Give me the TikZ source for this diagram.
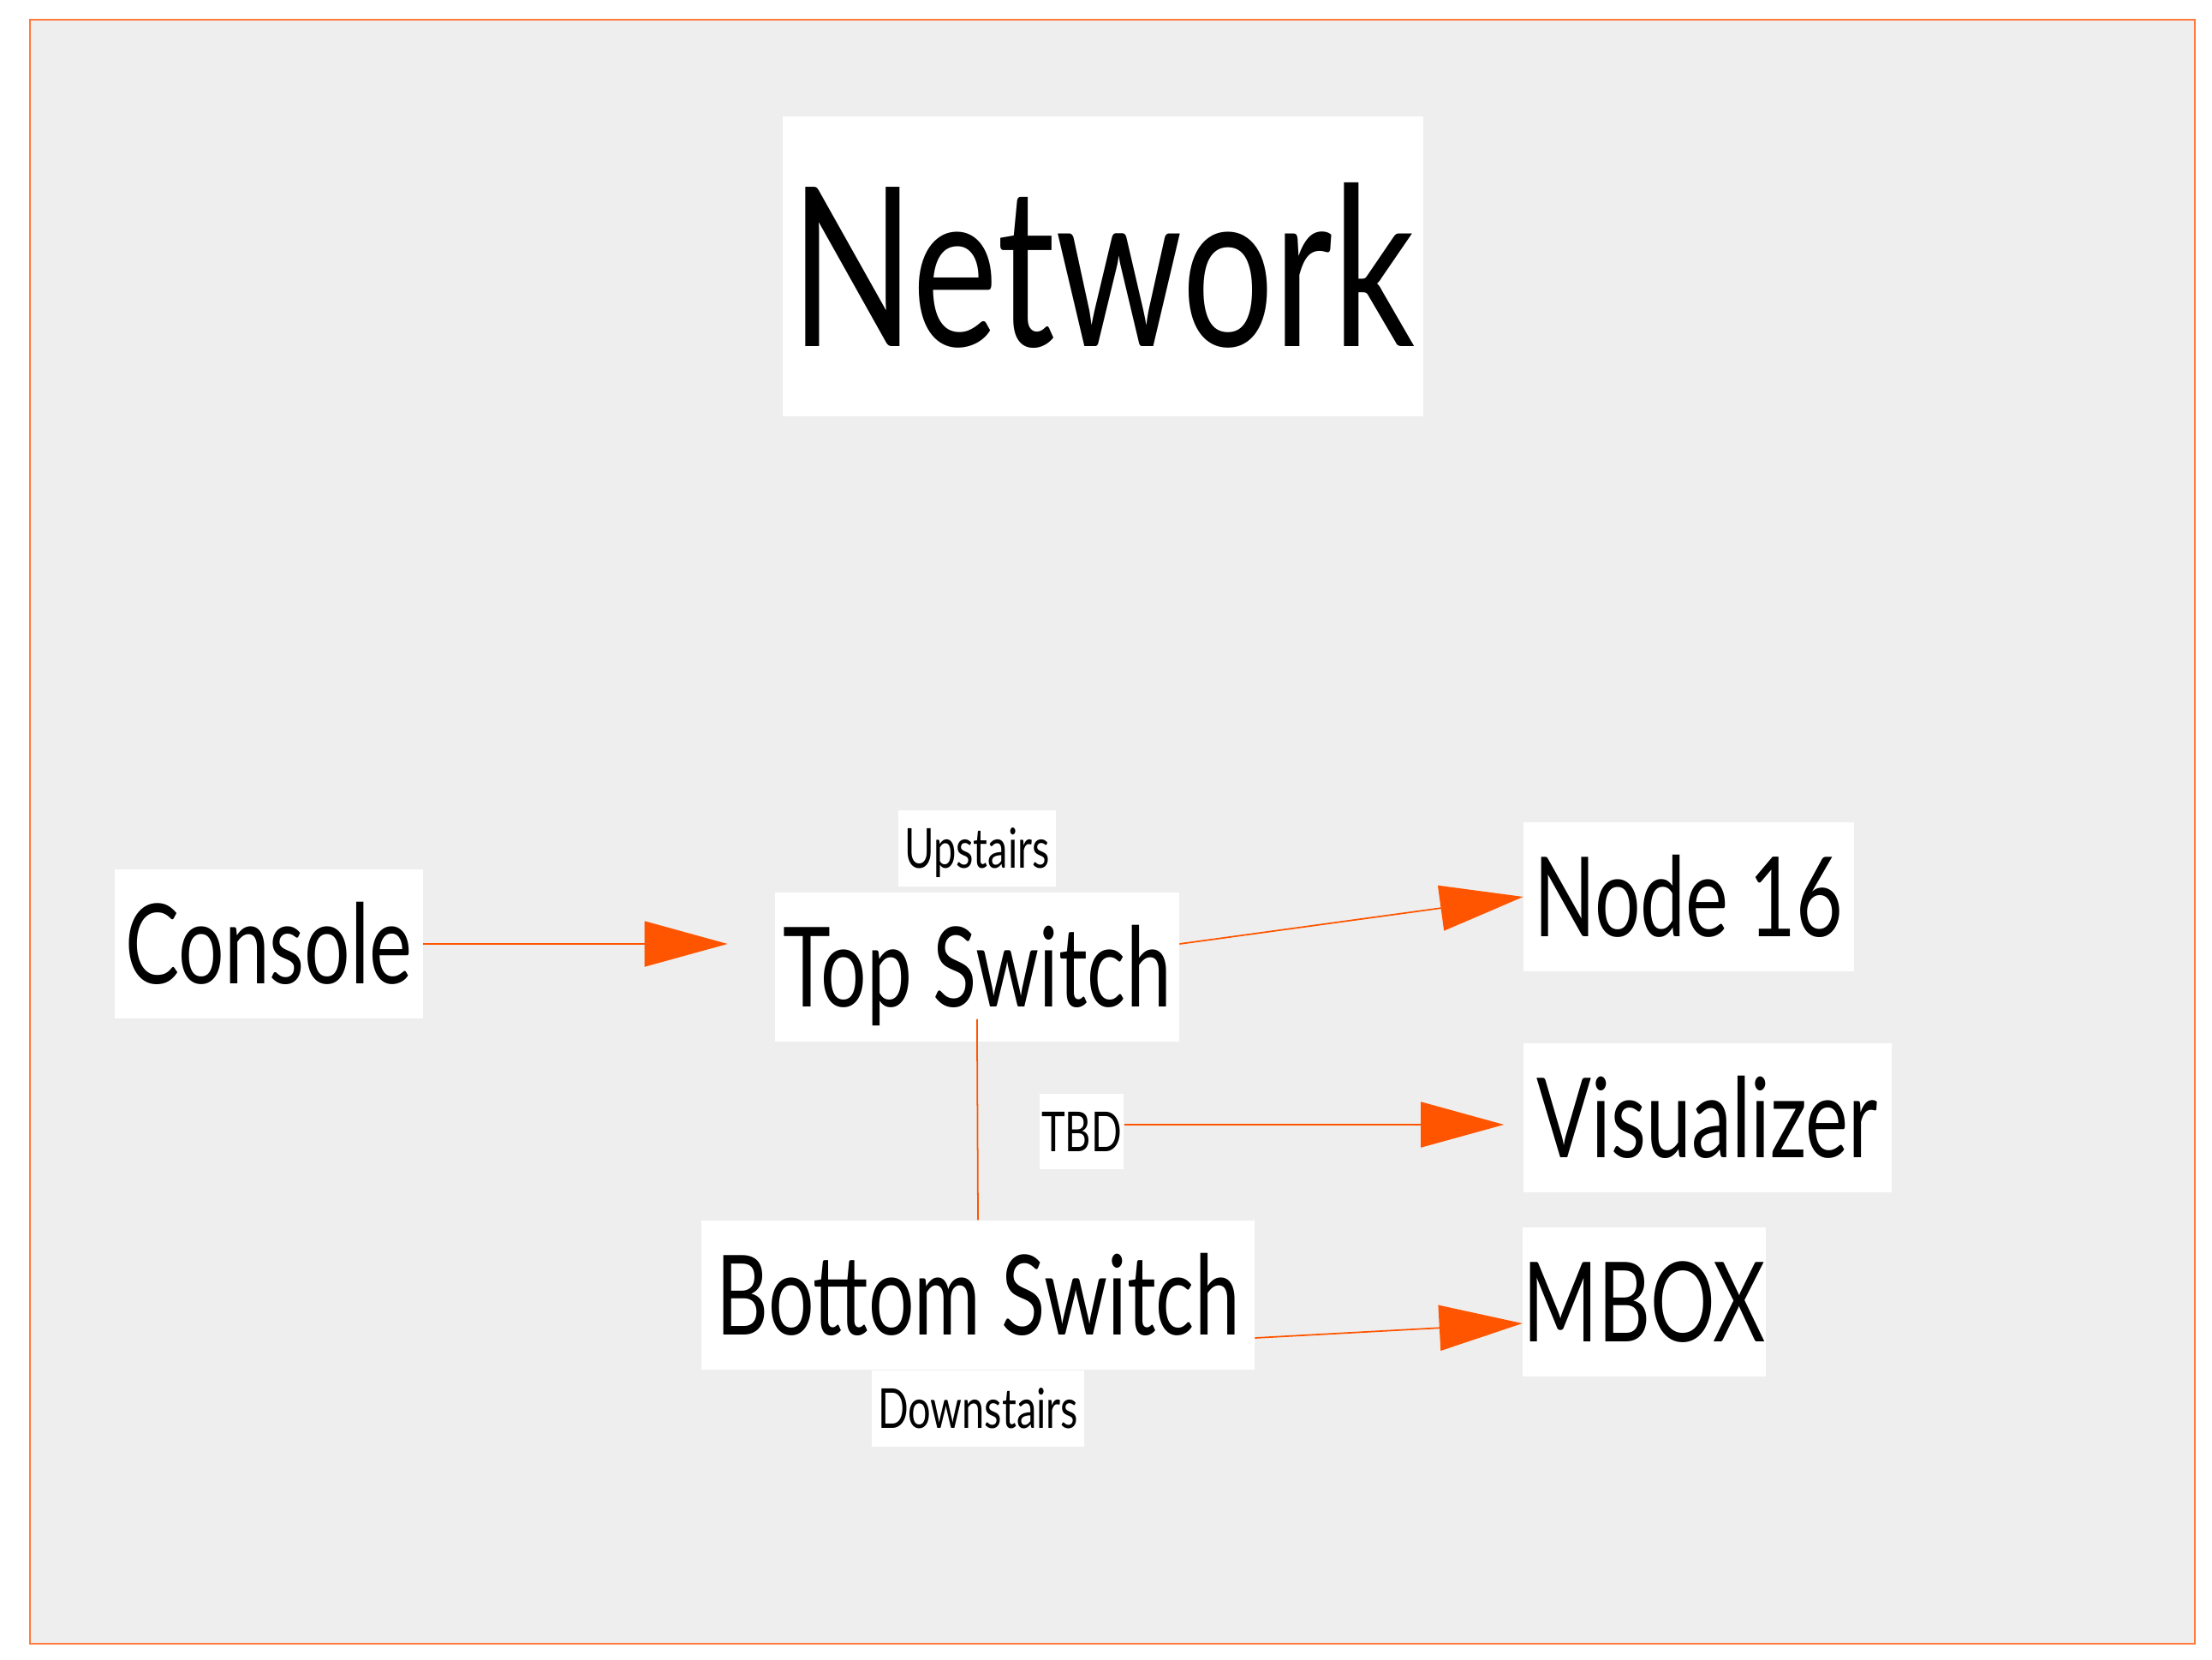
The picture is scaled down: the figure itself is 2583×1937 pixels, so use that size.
\documentclass[tikz,border=0pt]{standalone}
\usepackage{fontspec}
\setmainfont{Lato}[FakeStretch=0.73]
\usepackage{tikz}
\usetikzlibrary{arrows.meta}
\usetikzlibrary{positioning,calc}
\definecolor{linkorange}{HTML}{FF5500}
\definecolor{frameorange}{HTML}{FF7A3D}
\definecolor{panelgrey}{HTML}{EEEEEE}
\tikzstyle{bigbox} =
[
	fill=white,inner xsep=0.03cm,inner ysep=0pt,
	minimum height=1.74cm, text height=26.4pt, text depth=0pt,
	font=\fontsize{36.8pt}{40pt}\selectfont
]
\tikzstyle{tagbox} =
[
	fill=white,inner xsep=0.02cm,inner ysep=0pt,
	minimum height=0.88cm, text height=13.1pt, text depth=0pt,
	font=\fontsize{18.3pt}{20pt}\selectfont
]
\tikzstyle{titlebox} =
[
	fill=white,inner xsep=0.07cm,inner ysep=0pt,
	minimum height=3.49cm, text height=52.9pt, text depth=0pt,
	font=\fontsize{73.8pt}{80pt}\selectfont
]
\tikzstyle{link} =
[
	->,draw=linkorange,line width=0.5pt
]
\tikzstyle{wire} =
[
	-,draw=linkorange,line width=0.5pt
]

\begin{document}
\begin{tikzpicture}[x=0.01cm,y=-0.01cm,>={Triangle[length=9.7mm,width=5.3mm]}]

\useasboundingbox (0,0) rectangle (2583,1937);
\fill[white] (0,0) rectangle (2583,1937);
\draw[frameorange,line width=0.02cm,fill=panelgrey] (35,23) rectangle (2563,1919);

\node[titlebox, minimum width=7.48cm] (title) at (1288,311) {Network};

\node[bigbox, minimum width=3.59cm] (console) at (314,1102) {Console};
\node[bigbox, minimum width=4.71cm] (top) at (1141,1129) {Top Switch};
\node[bigbox, minimum width=3.85cm] (node16) at (1972,1047) {Node 16};
\node[bigbox, minimum width=4.30cm] (vis) at (1994,1305) {Visualizer};
\node[bigbox, minimum width=6.45cm] (bottom) at (1142,1512) {Bottom Switch};
\node[bigbox, minimum width=2.81cm, inner xsep=0pt] (mbox) at (1920,1520) {MBOX};

\node[tagbox, minimum width=1.83cm][above=0.06cm of top](up){Upstairs};
\node[tagbox, minimum width=0.87cm] (tbd) at (1263,1321) {TBD};
\node[tagbox, minimum width=2.47cm][below=0cm of bottom](down){Downstairs};

\draw[link, shorten >=0.55cm] (console.east) -- (console.east -| top.west);
\draw[link] ($(top.east)+(0,-27)$) -- (node16.west);
\draw[link, shorten >=0.22cm] ($(tbd.east)+(0,-8)$) -- ($(tbd.east -| vis.west)+(0,-8)$);
\draw[link] ($(bottom.east)+(0,50)$) -- ($(mbox.west)+(0,25)$);

\draw[wire, shorten <=-0.27cm] (top.south) -- (bottom.north);

\end{tikzpicture}
\end{document}
